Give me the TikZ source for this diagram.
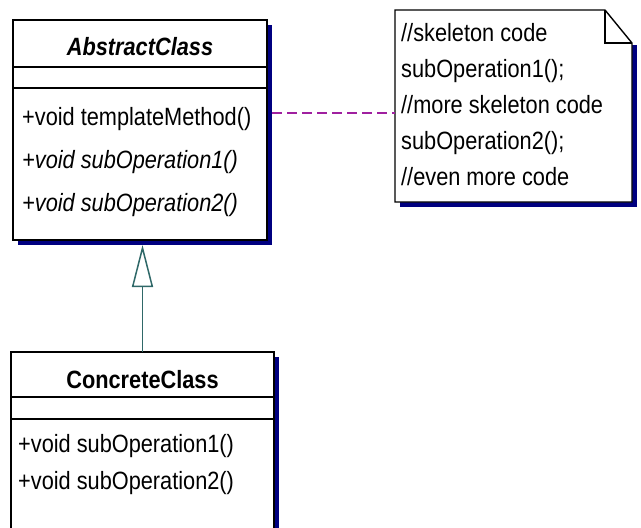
\documentclass[tikz,border=0pt]{standalone}
\usepackage{fontspec}
\setmainfont{Liberation Sans}[FakeStretch=0.87]
\usetikzlibrary{arrows.meta,calc}
\definecolor{shadowblue}{HTML}{000080}
\definecolor{linkteal}{HTML}{2F6868}
\definecolor{notepurple}{HTML}{A020A0}

\begin{document}
\begin{tikzpicture}[x=1pt,y=-1pt,
  classbox/.style={draw=black, line width=1.4pt, fill=white, anchor=north west,
    inner sep=0pt, outer sep=0pt},
  umltext/.style={font=\fontsize{25}{28}\selectfont, anchor=base west, inner sep=0pt},
  umltitle/.style={font=\fontsize{25}{28}\selectfont\bfseries, anchor=base, inner sep=0pt},
  divider/.style={draw=black, line width=1.2pt},
  shadow/.style={fill=shadowblue},
  generalization/.style={draw=linkteal, line width=1.5pt,
    -{Triangle[open, length=42pt, width=21pt, line width=1.5pt, fill=white]}},
  notelink/.style={draw=notepurple, line width=1.6pt, dash pattern=on 10pt off 5pt}]

\useasboundingbox (0,0) rectangle (641,528);

% ---------- AbstractClass ----------
\fill[shadow] (18,25) rectangle (272,245);
\node[classbox, minimum width=254pt, minimum height=220pt] (abs) at (13,20) {};
\draw[divider] ($(abs.north west)+(0,47)$) -- ++(254,0);
\draw[divider] ($(abs.north west)+(0,68)$) -- ++(254,0);
\node[umltitle] (absname) at (140,55) {\itshape AbstractClass};
\node[umltext] (am1) at (22,125) {+void templateMethod()};
\node[umltext] (am2) at (22,168) {\itshape +void subOperation1()};
\node[umltext] (am3) at (22,211) {\itshape +void subOperation2()};

% ---------- ConcreteClass ----------
\fill[shadow] (16,357) rectangle (279,540);
\node[classbox, minimum width=263pt, minimum height=180pt] (conc) at (11,352) {};
\draw[divider] ($(conc.north west)+(0,45)$) -- ++(263,0);
\draw[divider] ($(conc.north west)+(0,67)$) -- ++(263,0);
\node[umltitle] (concname) at (142.5,388) {ConcreteClass};
\node[umltext] (cm1) at (18,452) {+void subOperation1()};
\node[umltext] (cm2) at (18,489) {+void subOperation2()};

% ---------- note with folded corner ----------
\fill[shadow] (400,45) -- (637,45) -- (637,207) -- (400,207) -- cycle;
\coordinate (nw) at (395,10);
\coordinate (fold) at (605,10);
\coordinate (foldend) at (632,43);
\coordinate (se) at (632,202);
\filldraw[fill=white, draw=black, line width=1.4pt]
  (nw) -- (fold) -- (foldend) -- (se) -- (395,202) -- cycle;
\draw[black, line width=1.4pt] (fold) -- (605,43) -- (foldend);
\node[inner sep=0pt, minimum width=237pt, minimum height=192pt, anchor=north west] (note) at (nw) {};
\node[umltext] (n1) at (401,41) {//skeleton code};
\node[umltext] (n2) at (401,77) {subOperation1();};
\node[umltext] (n3) at (401,113) {//more skeleton code};
\node[umltext] (n4) at (401,149) {subOperation2();};
\node[umltext] (n5) at (401,185) {//even more code};

% ---------- connectors ----------
\coordinate (linkstart) at (272,113);
\draw[notelink] (linkstart) -- (note.west |- linkstart);
\coordinate (arrowtip) at (conc.north |- 0,245);
\draw[generalization] (conc.north) -- (arrowtip);
\end{tikzpicture}
\end{document}
